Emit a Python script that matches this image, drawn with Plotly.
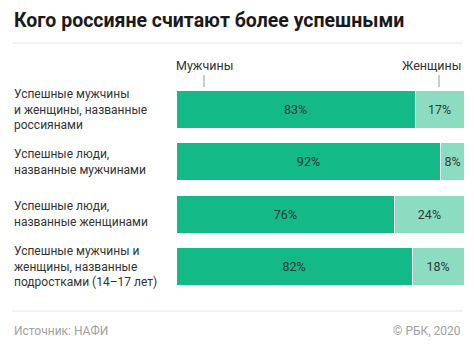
import plotly.graph_objects as go

categories = [
    "Успешные мужчины<br>и женщины, названные<br>россиянами",
    "Успешные люди,<br>названные мужчинами",
    "Успешные люди,<br>названные женщинами",
    "Успешные мужчины и<br>женщины, названные<br>подростками (14–17 лет)",
]
men = [83, 92, 76, 82]
women = [17, 8, 24, 18]
series_names = ["Мужчины", "Женщины"]
title = "Кого россияне считают более успешными"
source = "Источник: НАФИ"
copyright_text = "© РБК, 2020"

W, H = 474, 350
L, R, T, B = 176, 10, 83, 57
pw, ph = W - L - R, H - T - B

def px(x):
    return (x - L) / pw

def py(y):
    return (H - B - y) / ph

DARK = "#13b987"
LIGHT = "#8cdcc1"
TXT = "#2f3b37"
FONT = "Roboto"

ids = list(range(len(categories)))

fig = go.Figure()
fig.add_trace(go.Bar(
    y=ids, x=men, orientation="h", name=series_names[0],
    marker=dict(color=DARK, line=dict(color="white", width=1)),
    text=[f"{v}%" for v in men], textposition="inside", insidetextanchor="middle",
    textfont=dict(color=TXT, size=12.5, family=FONT),
))
fig.add_trace(go.Bar(
    y=ids, x=women, orientation="h", name=series_names[1],
    marker=dict(color=LIGHT, line=dict(color="white", width=1)),
    text=[f"{v}%" for v in women], textposition="inside", insidetextanchor="middle",
    textfont=dict(color=TXT, size=12.5, family=FONT),
))

annotations = []
for i, c in enumerate(categories):
    annotations.append(dict(
        x=px(12), y=i, xref="paper", yref="y", text=c, showarrow=False,
        xanchor="left", yanchor="middle", align="left",
        font=dict(size=12, color="#333333", family=FONT),
    ))
annotations += [
    dict(x=px(12), y=py(21), xref="paper", yref="paper", text=f"<b>{title}</b>",
         showarrow=False, xanchor="left", yanchor="middle",
         font=dict(size=19.5, color="#1a1a1a", family=FONT)),
    dict(x=px(204), y=py(65), xref="paper", yref="paper", text=series_names[0],
         showarrow=False, xanchor="center", yanchor="middle",
         font=dict(size=12.5, color="#333333", family=FONT)),
    dict(x=px(464), y=py(65), xref="paper", yref="paper", text=series_names[1],
         showarrow=False, xanchor="right", yanchor="middle",
         font=dict(size=12.5, color="#333333", family=FONT)),
    dict(x=px(12), y=py(331), xref="paper", yref="paper", text=source,
         showarrow=False, xanchor="left", yanchor="middle",
         font=dict(size=12, color="#a0a0a0", family=FONT)),
    dict(x=px(463), y=py(331), xref="paper", yref="paper", text=copyright_text,
         showarrow=False, xanchor="right", yanchor="middle",
         font=dict(size=12, color="#a0a0a0", family=FONT)),
]

shapes = [
    dict(type="line", xref="paper", yref="paper", x0=px(12), x1=px(463), y0=py(43), y1=py(43),
         line=dict(color="#e6e6e6", width=1)),
    dict(type="line", xref="paper", yref="paper", x0=px(12), x1=px(463), y0=py(311), y1=py(311),
         line=dict(color="#e6e6e6", width=1)),
    dict(type="line", xref="paper", yref="paper", x0=px(204), x1=px(204), y0=py(75), y1=py(87),
         line=dict(color="#999999", width=1)),
    dict(type="line", xref="paper", yref="paper", x0=px(439), x1=px(439), y0=py(75), y1=py(87),
         line=dict(color="#999999", width=1)),
]

fig.update_layout(
    width=W, height=H, margin=dict(l=L, r=R, t=T, b=B),
    barmode="stack", bargap=0.28, showlegend=False,
    paper_bgcolor="white", plot_bgcolor="white",
    xaxis=dict(range=[0, 100], visible=False, fixedrange=True),
    yaxis=dict(range=[len(categories) - 0.5, -0.5], visible=False, fixedrange=True),
    annotations=annotations, shapes=shapes,
    uniformtext=dict(minsize=12, mode="show"),
)

fig.write_html("out.html", config={"displayModeBar": False})
